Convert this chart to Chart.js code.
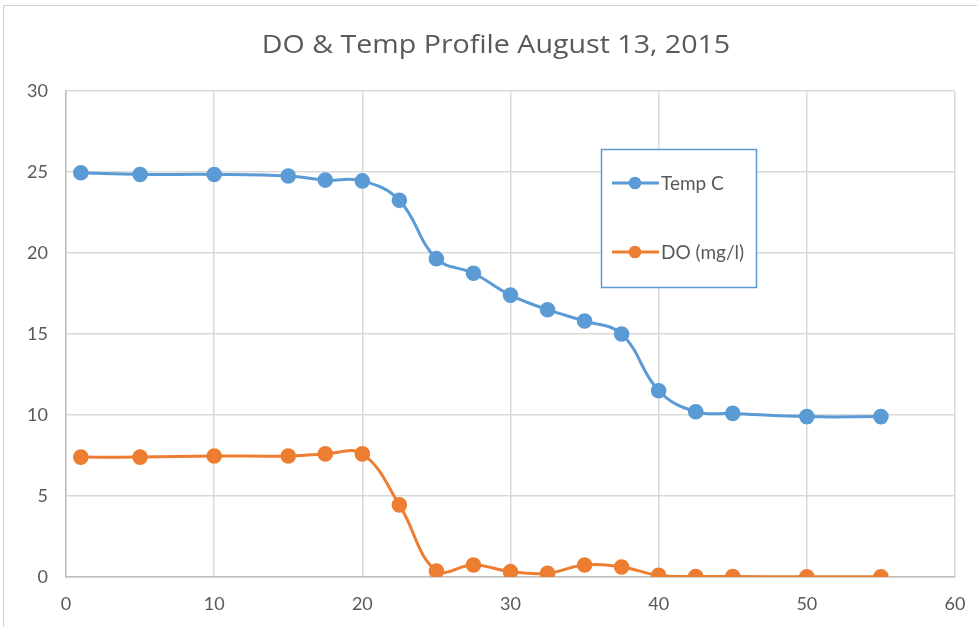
<!DOCTYPE html>
<html>
<head>
<meta charset="utf-8">
<script src="https://cdn.jsdelivr.net/npm/chart.js@4/dist/chart.umd.min.js"></script>
<style>
  html, body { margin: 0; padding: 0; background: #fff; }
  #wrap { width: 977px; height: 627px; position: relative; }
</style>
</head>
<body>
<div id="wrap"><canvas id="c" width="977" height="627"></canvas></div>
<script>
// depth (x) and readings
const depth = [1, 5, 10, 15, 17.5, 20, 22.5, 25, 27.5, 30, 32.5, 35, 37.5, 40, 42.5, 45, 50, 55];
const tempC = [24.95, 24.85, 24.85, 24.75, 24.5, 24.45, 23.25, 19.65, 18.75, 17.4, 16.5, 15.8, 15.0, 11.5, 10.2, 10.1, 9.9, 9.9];
const doMgl = [7.4, 7.4, 7.47, 7.47, 7.6, 7.6, 4.45, 0.37, 0.74, 0.33, 0.23, 0.74, 0.62, 0.1, 0.03, 0.03, 0.01, 0.01];
const xTicks = [0, 10, 20, 30, 40, 50, 60];
const yTicks = [0, 5, 10, 15, 20, 25, 30];
const titleText = 'DO & Temp Profile August 13, 2015';

const FONT = 'Lato, "Open Sans", sans-serif';
const GREY = '#595959';

function pts(ys) {
  return depth.map((x, i) => ({ x: x, y: ys[i] }));
}

// frame, title (a bit wide, like the original) and the boxed legend
const decor = {
  id: 'decor',
  beforeDraw(chart) {
    const ctx = chart.ctx;
    ctx.save();
    ctx.strokeStyle = '#d0d0d0';
    ctx.lineWidth = 1;
    ctx.strokeRect(3.5, 5.5, 990, 640);
    ctx.restore();
  },
  afterDraw(chart) {
    const ctx = chart.ctx;
    ctx.save();
    ctx.fillStyle = GREY;
    ctx.font = '26px "Open Sans", Lato, sans-serif';
    ctx.textAlign = 'center';
    ctx.textBaseline = 'alphabetic';
    ctx.translate(496, 53);
    ctx.scale(1.1, 1);
    ctx.fillText(titleText, 0, 0);
    ctx.restore();

    ctx.save();
    ctx.fillStyle = '#fff';
    ctx.fillRect(601, 149, 156, 139);
    ctx.strokeStyle = '#5b9bd5';
    ctx.lineWidth = 1.5;
    ctx.strokeRect(601.5, 149.5, 155, 138);
    const rows = [183, 252];
    chart.data.datasets.forEach((ds, i) => {
      const y = rows[i];
      ctx.strokeStyle = ds.borderColor;
      ctx.lineWidth = 3;
      ctx.beginPath();
      ctx.moveTo(612, y);
      ctx.lineTo(659, y);
      ctx.stroke();
      ctx.fillStyle = ds.backgroundColor;
      ctx.beginPath();
      ctx.arc(635, y, 6.3, 0, Math.PI * 2);
      ctx.fill();
      ctx.fillStyle = GREY;
      ctx.font = '19px ' + FONT;
      ctx.textBaseline = 'middle';
      ctx.textAlign = 'left';
      ctx.fillText(ds.label, 661, y + 1);
    });
    ctx.restore();
  }
};

new Chart(document.getElementById('c'), {
  type: 'scatter',
  data: {
    datasets: [
      { label: 'Temp C', data: pts(tempC), showLine: true, borderColor: '#5b9bd5', backgroundColor: '#5b9bd5',
        borderWidth: 3, pointRadius: 6.3, pointHoverRadius: 6.3, tension: 0.4 },
      { label: 'DO (mg/l)', data: pts(doMgl), showLine: true, borderColor: '#ed7d31', backgroundColor: '#ed7d31',
        borderWidth: 3, pointRadius: 6.3, pointHoverRadius: 6.3, tension: 0.4 }
    ]
  },
  options: {
    responsive: false,
    animation: false,
    devicePixelRatio: 1,
    layout: { padding: { left: 0, right: 22, top: 91, bottom: 0 } },
    plugins: {
      legend: { display: false },
      tooltip: { enabled: false },
      title: { display: false }
    },
    scales: {
      x: {
        type: 'linear', min: 0, max: 60,
        afterBuildTicks: s => { s.ticks = xTicks.map(v => ({ value: v })); },
        afterFit: s => { s.height = 50; s.paddingLeft = 0; s.paddingRight = 0; },
        grid: { color: '#d9d9d9', lineWidth: 1.5, drawTicks: false },
        border: { color: '#bfbfbf', width: 1.5 },
        ticks: { color: GREY, font: { family: FONT, size: 18 }, padding: 16 }
      },
      y: {
        min: 0, max: 30,
        afterBuildTicks: s => { s.ticks = yTicks.map(v => ({ value: v })); },
        afterFit: s => { s.width = 66; s.paddingTop = 0; s.paddingBottom = 0; },
        grid: { color: '#d9d9d9', lineWidth: 1.5, drawTicks: false },
        border: { color: '#bfbfbf', width: 1.5 },
        ticks: { color: GREY, font: { family: FONT, size: 18 }, padding: 18 }
      }
    }
  },
  plugins: [decor]
});
</script>
</body>
</html>
